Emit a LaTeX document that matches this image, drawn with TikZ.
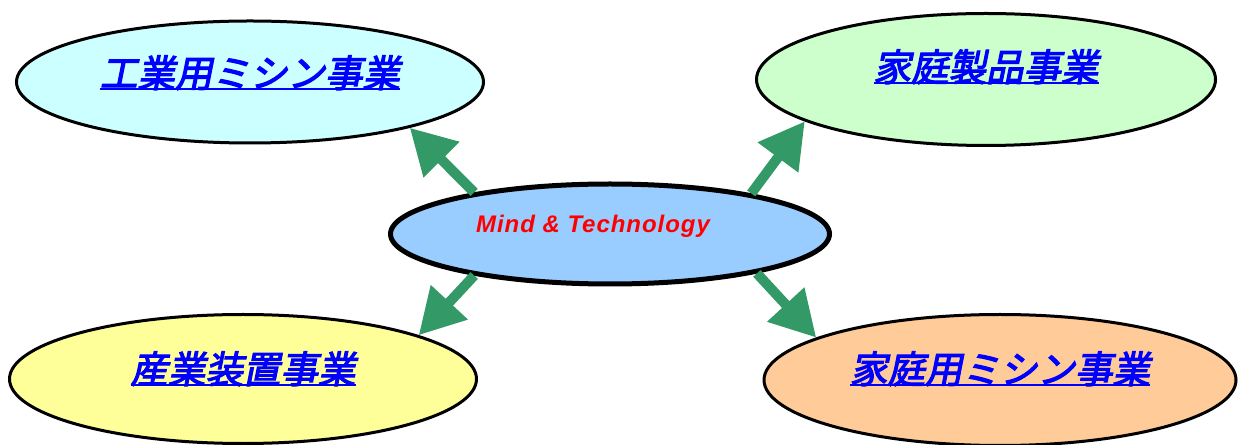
\documentclass[tikz,border=0pt]{standalone}
\usepackage{fontspec}
\usepackage{tikz}
\usetikzlibrary{shapes.geometric,arrows.meta}
\setmainfont{Liberation Sans}
\newfontfamily\jpfont[FakeSlant=0.2,FakeBold=3]{Noto Sans CJK JP}
\definecolor{bizcyan}{HTML}{CCFFFF}
\definecolor{bizgreen}{HTML}{CCFFCC}
\definecolor{bizyellow}{HTML}{FFFF99}
\definecolor{bizorange}{HTML}{FFCC99}
\definecolor{corefill}{HTML}{99CCFF}
\definecolor{linkgreen}{HTML}{339966}
\newcommand{\bizul}[1]{\setbox0=\hbox{#1}\rlap{\rule[-3pt]{\wd0}{2pt}}\box0}

\begin{document}
\begin{tikzpicture}[x=1pt,y=1pt,
		biz/.style={ellipse,draw,line width=3pt,inner sep=0pt,text=blue,
			font=\jpfont\fontsize{37.5}{37.5}\selectfont},
		core/.style={ellipse,draw,line width=5pt,inner sep=0pt,fill=corefill,text=red,
			font=\bfseries\itshape\fontsize{24}{24}\selectfont\addfontfeature{LetterSpace=4}},
		link/.style={draw=linkgreen,line width=10pt,-{Triangle[length=45pt,width=48pt]}}]
		\useasboundingbox (0,0) rectangle (1238,444);
		% business fields
		\node [biz,fill=bizcyan,minimum width=467pt,minimum height=122pt,text height=34pt,text depth=24pt] (kogyo) at (250,362) {\bizul{工業用ミシン事業}};
		\node [biz,fill=bizgreen,minimum width=459pt,minimum height=132pt,text height=34pt,text depth=31pt] (seihin) at (986,364.5) {\bizul{家庭製品事業}};
		\node [biz,fill=bizyellow,minimum width=467pt,minimum height=129pt,text height=34pt,text depth=26pt] (sangyo) at (243,65) {\bizul{産業装置事業}};
		\node [biz,fill=bizorange,minimum width=472pt,minimum height=131pt,text height=34pt,text depth=28pt] (katei) at (1000,64) {\bizul{家庭用ミシン事業}};
		% core
		\node [core,minimum width=439pt,minimum height=100pt,text height=18pt,text depth=20pt] (mind) at (610,210) {Mind \& Technology\hspace*{34pt}};
		% links
		\draw [link] (mind.163) -- (kogyo.344);
		\draw [link] (mind.16) -- (seihin.193.5);
		\draw [link] (mind.197) -- (sangyo.14.2);
		\draw [link] (mind.345) -- (katei.167.4);
	\end{tikzpicture}
\end{document}
